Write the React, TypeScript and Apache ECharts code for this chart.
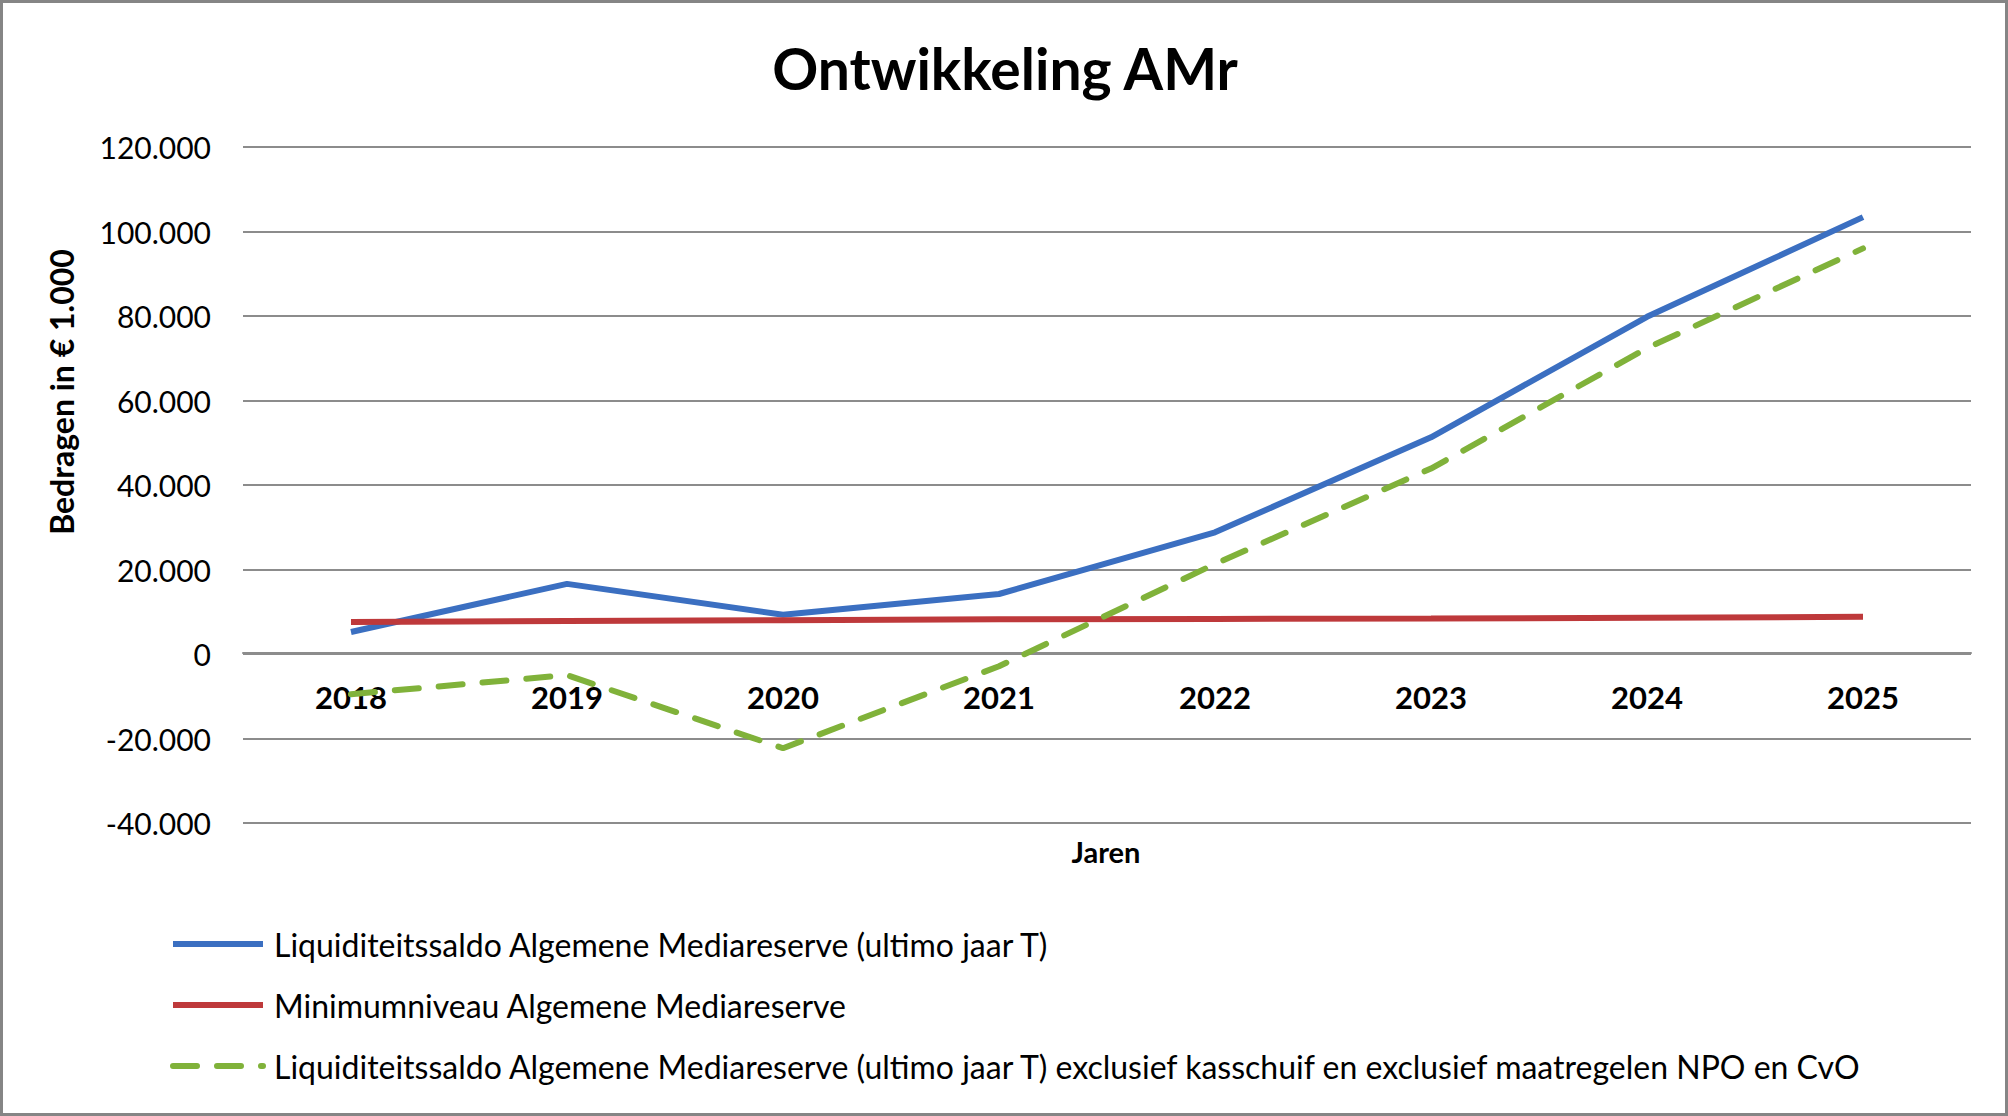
import React, { useEffect, useRef } from "react";
import * as echarts from "echarts";

const years = ["2018", "2019", "2020", "2021", "2022", "2023", "2024", "2025"];
const liquiditeit = [5200, 16600, 9300, 14200, 28800, 51300, 79800, 103400];
const minimum = [7600, 7800, 8000, 8200, 8300, 8400, 8600, 8800];
const exclusief = [-9500, -5000, -22300, -2900, 21300, 43900, 72400, 96000];

const seriesNames = [
  "Liquiditeitssaldo Algemene Mediareserve (ultimo jaar T)",
  "Minimumniveau Algemene Mediareserve",
  "Liquiditeitssaldo Algemene Mediareserve (ultimo jaar T) exclusief kasschuif en exclusief maatregelen NPO en CvO",
];

const FONT = "Lato, 'Open Sans', sans-serif";

function fmt(v: number): string {
  const s = Math.abs(v).toString().replace(/\B(?=(\d{3})+(?!\d))/g, ".");
  return (v < 0 ? "-" : "") + s;
}

export default function App() {
  const ref = useRef<HTMLDivElement>(null);
  useEffect(() => {
    document.body.style.margin = "0";
    const chart = echarts.init(ref.current!, null, { renderer: "svg" });
    chart.setOption({
      animation: false,
      backgroundColor: "#ffffff",
      textStyle: { fontFamily: FONT },
      grid: { left: 243, right: 37, top: 147, bottom: 293 },
      xAxis: {
        type: "category",
        data: years,
        boundaryGap: true,
        offset: -170,
        axisLine: { onZero: false, lineStyle: { color: "#8c8c8c", width: 2 } },
        axisTick: { show: false },
        axisLabel: {
          margin: 28,
          fontSize: 31,
          fontWeight: "bold",
          color: "#000",
          fontFamily: FONT,
        },
      },
      yAxis: {
        type: "value",
        min: -40000,
        max: 120000,
        interval: 20000,
        axisLine: { show: false },
        axisTick: { show: false },
        splitLine: { lineStyle: { color: "#8c8c8c", width: 2 } },
        axisLabel: {
          margin: 32,
          fontSize: 30,
          color: "#000",
          fontFamily: FONT,
          formatter: (v: number) => fmt(v),
        },
      },
      legend: {
        orient: "vertical",
        left: 170,
        top: 927,
        padding: 0,
        itemWidth: 90,
        itemHeight: 14,
        itemGap: 27,
        itemStyle: { opacity: 0 },
        lineStyle: { width: 6 },
        textStyle: {
          fontSize: 32,
          lineHeight: 34,
          color: "#000",
          fontFamily: FONT,
          padding: [0, 0, 0, 6],
        },
        data: seriesNames,
      },
      series: [
        {
          name: seriesNames[0],
          type: "line",
          data: liquiditeit,
          symbol: "none",
          lineStyle: { color: "#3b6fc1", width: 6 },
          itemStyle: { color: "#3b6fc1" },
        },
        {
          name: seriesNames[1],
          type: "line",
          data: minimum,
          symbol: "none",
          lineStyle: { color: "#be393b", width: 6 },
          itemStyle: { color: "#be393b" },
        },
        {
          name: seriesNames[2],
          type: "line",
          data: exclusief,
          symbol: "none",
          lineStyle: { color: "#80b23a", width: 6, type: [24, 20], cap: "round" },
          itemStyle: { color: "#80b23a" },
        },
      ],
      graphic: [
        {
          type: "rect",
          shape: { x: 1.5, y: 1.5, width: 2005, height: 1113 },
          style: { fill: "none", stroke: "#858585", lineWidth: 3 },
          silent: true,
        },
        {
          type: "text",
          x: 1005,
          y: 68,
          style: {
            text: "Ontwikkeling AMr",
            fontSize: 57,
            fontWeight: "bold",
            fontFamily: FONT,
            fill: "#000",
            align: "center",
            verticalAlign: "middle",
          },
        },
        {
          type: "text",
          x: 61,
          y: 392,
          rotation: Math.PI / 2,
          style: {
            text: "Bedragen in € 1.000",
            fontSize: 32,
            fontWeight: "bold",
            fontFamily: FONT,
            fill: "#000",
            align: "center",
            verticalAlign: "middle",
          },
        },
        {
          type: "text",
          x: 1106,
          y: 851,
          style: {
            text: "Jaren",
            fontSize: 29,
            fontWeight: "bold",
            fontFamily: FONT,
            fill: "#000",
            align: "center",
            verticalAlign: "middle",
          },
        },
      ],
    });
    return () => chart.dispose();
  }, []);
  return <div ref={ref} style={{ width: 2008, height: 1116 }} />;
}
